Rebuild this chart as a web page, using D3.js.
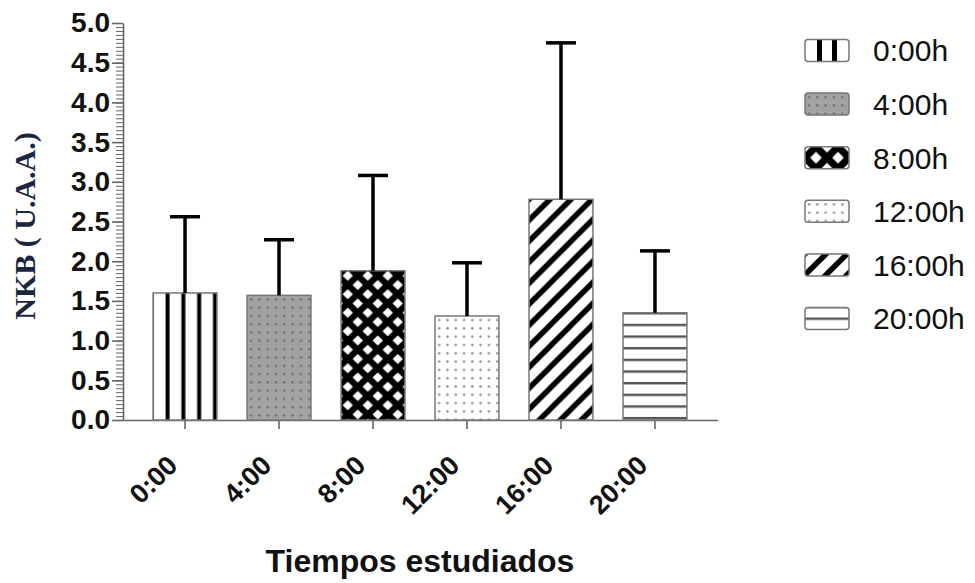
<!DOCTYPE html>
<html><head><meta charset="utf-8">
<script src="https://cdn.jsdelivr.net/npm/d3@7"></script>
<style>body{margin:0;background:#fff}svg{display:block}</style>
</head><body>
<svg id="c" width="975" height="583"></svg>
<script>
// ---- data ----
const categories = ["0:00", "4:00", "8:00", "12:00", "16:00", "20:00"];
const means = [1.60, 1.57, 1.88, 1.31, 2.78, 1.35];
const errors = [0.96, 0.70, 1.20, 0.67, 1.97, 0.78];
const legendLabels = ["0:00h", "4:00h", "8:00h", "12:00h", "16:00h", "20:00h"];
const yTicks = [0, 0.5, 1.0, 1.5, 2.0, 2.5, 3.0, 3.5, 4.0, 4.5, 5.0];
const yTitle = "NKB ( U.A.A.)";
const xTitle = "Tiempos estudiados";
const patternKeys = ["vstripe", "graydots", "xdiamond", "dots", "diag", "hlines"];

const svg = d3.select("#c");
const defs = svg.append("defs");

const x = d3.scaleBand().domain(categories).range([123, 717]).paddingInner(0.32).paddingOuter(0.32);
const y = d3.scaleLinear().domain([0, 5]).range([420, 23]);

// ---- patterns ----
function makePattern(id, key, ox, oy, legend) {
  const p = defs.append("pattern").attr("id", id).attr("patternUnits", "userSpaceOnUse")
    .attr("x", ox || 0).attr("y", oy || 0);
  if (key === "vstripe") {
    if (legend) {
      p.attr("width", 44).attr("height", 10);
      p.append("rect").attr("width", 44).attr("height", 10).attr("fill", "#fff");
      p.append("rect").attr("x", 12).attr("width", 5).attr("height", 10).attr("fill", "#000");
      p.append("rect").attr("x", 27).attr("width", 5).attr("height", 10).attr("fill", "#000");
    } else {
      p.attr("width", 15.8).attr("height", 10);
      p.append("rect").attr("width", 15.8).attr("height", 10).attr("fill", "#fff");
      p.append("rect").attr("x", 12.5).attr("width", 3.3).attr("height", 10).attr("fill", "#000");
      p.append("rect").attr("x", 0).attr("width", 0.7).attr("height", 10).attr("fill", "#000");
    }
  } else if (key === "graydots") {
    p.attr("width", 8.3).attr("height", 8.3);
    p.append("rect").attr("width", 8.3).attr("height", 8.3).attr("fill", "#a2a2a2");
    p.append("rect").attr("x", 3).attr("y", 3).attr("width", 2).attr("height", 2).attr("fill", "#666");
  } else if (key === "dots") {
    p.attr("width", 8.3).attr("height", 8.3);
    p.append("rect").attr("width", 8.3).attr("height", 8.3).attr("fill", "#fff");
    p.append("rect").attr("x", 3).attr("y", 3).attr("width", 2.2).attr("height", 2.2).attr("fill", "#8a8a8a");
  } else if (key === "xdiamond") {
    const w = legend ? 22 : 20, h = legend ? 22 : 18.5, r = legend ? 5 : 4.3;
    p.attr("width", w).attr("height", h);
    p.append("rect").attr("width", w).attr("height", h).attr("fill", "#000");
    [[0, 0], [w, 0], [0, h], [w, h], [w / 2, h / 2]].forEach(([cx, cy]) =>
      p.append("path").attr("d", `M${cx},${cy - r}L${cx + r},${cy}L${cx},${cy + r}L${cx - r},${cy}Z`)
        .attr("fill", "#fff").attr("stroke", "#fff").attr("stroke-width", 1.2).attr("stroke-linejoin", "round"));
  } else if (key === "diag") {
    p.attr("width", 21).attr("height", 21);
    p.append("rect").attr("width", 21).attr("height", 21).attr("fill", "#fff");
    p.append("path").attr("d", "M-6,6 L6,-6 M-1,22 L22,-1 M15,27 L27,15")
      .attr("stroke", "#000").attr("stroke-width", 5.5);
  } else if (key === "hlines") {
    p.attr("width", 10).attr("height", 11.65);
    p.append("rect").attr("width", 10).attr("height", 11.65).attr("fill", "#fff");
    p.append("rect").attr("y", 0).attr("width", 10).attr("height", 1.4).attr("fill", "#555");
    p.append("rect").attr("y", 10.65).attr("width", 10).attr("height", 1.0).attr("fill", "#555");
  }
}
const barOffsets = { vstripe: [0, 0], graydots: [0, 0], xdiamond: [6.7, 5], dots: [0, 0], diag: [0, 0], hlines: [0, 0.3] };
patternKeys.forEach(k => {
  makePattern("bar-" + k, k, barOffsets[k][0], barOffsets[k][1], false);
  makePattern("leg-" + k, k, 0, k === "hlines" ? 11 : 0, true);
});

// ---- axes ----
const axisColor = "#666";
const yMinor = svg.append("g").attr("transform", "translate(123,0)")
  .call(d3.axisLeft(y).tickValues(d3.range(0, 5.001, 0.05)).tickSize(7).tickFormat(""));
yMinor.select(".domain").remove();
yMinor.selectAll("line").attr("stroke", axisColor).attr("stroke-width", 1);

const yAxis = svg.append("g").attr("transform", "translate(123,0)")
  .call(d3.axisLeft(y).tickValues(yTicks).tickSize(11).tickSizeOuter(0).tickPadding(2).tickFormat(d3.format(".1f")));
yAxis.select(".domain").attr("stroke", axisColor).attr("stroke-width", 1.6);
yAxis.selectAll("line").attr("stroke", axisColor).attr("stroke-width", 1.6);
yAxis.selectAll("text").attr("font-family", "Liberation Sans, Arial, sans-serif")
  .attr("font-weight", "bold").attr("font-size", 28).attr("fill", "#111");

const xAxis = svg.append("g").attr("transform", "translate(0,420)")
  .call(d3.axisBottom(x).tickSize(9).tickSizeOuter(0).tickPadding(0));
xAxis.select(".domain").attr("stroke", axisColor).attr("stroke-width", 1.6).attr("d", "M123,0.5H718");
xAxis.selectAll("line").attr("stroke", axisColor).attr("stroke-width", 1.6);
xAxis.selectAll("text").attr("font-family", "Liberation Sans, Arial, sans-serif")
  .attr("font-weight", "bold").attr("font-size", 27).attr("fill", "#111")
  .attr("text-anchor", "end").attr("dy", "0.35em")
  .attr("transform", "translate(-19,34) rotate(-45)");

// ---- bars ----
const bars = svg.append("g");
categories.forEach((c, i) => {
  const g = bars.append("g").attr("transform", `translate(${x(c)},${y(means[i])})`);
  g.append("rect").attr("width", x.bandwidth()).attr("height", y(0) - y(means[i]))
    .attr("fill", `url(#bar-${patternKeys[i]})`).attr("stroke", "#777").attr("stroke-width", 1.5);
});

// ---- error bars ----
const eb = svg.append("g").attr("stroke", "#000").attr("stroke-width", 3.5);
categories.forEach((c, i) => {
  const cx = x(c) + x.bandwidth() / 2;
  eb.append("line").attr("x1", cx).attr("x2", cx).attr("y1", y(means[i])).attr("y2", y(means[i] + errors[i]));
  eb.append("line").attr("x1", cx - 15).attr("x2", cx + 15).attr("y1", y(means[i] + errors[i])).attr("y2", y(means[i] + errors[i]));
});

// ---- titles ----
svg.append("text").attr("transform", "translate(35,226) rotate(-90)").attr("text-anchor", "middle")
  .attr("font-family", "Liberation Serif, Times New Roman, serif").attr("font-weight", "bold")
  .attr("font-size", 30).attr("fill", "#1c2640").text(yTitle);
svg.append("text").attr("x", 420).attr("y", 572).attr("text-anchor", "middle")
  .attr("font-family", "Liberation Sans, Arial, sans-serif").attr("font-weight", "bold")
  .attr("font-size", 32).attr("fill", "#111").text(xTitle);

// ---- legend ----
const legY = d3.scalePoint().domain(legendLabels).range([50.5, 318.5]);
legendLabels.forEach((lab, i) => {
  const g = svg.append("g").attr("transform", `translate(805,${legY(lab) - 11})`);
  g.append("rect").attr("width", 44).attr("height", 22).attr("rx", 3)
    .attr("fill", `url(#leg-${patternKeys[i]})`).attr("stroke", "#777").attr("stroke-width", 1.5);
  g.append("text").attr("x", 68).attr("y", 11).attr("dy", "0.36em")
    .attr("font-family", "Liberation Sans, Arial, sans-serif").attr("font-size", 30).attr("fill", "#111").text(lab);
});
</script>
</body></html>
